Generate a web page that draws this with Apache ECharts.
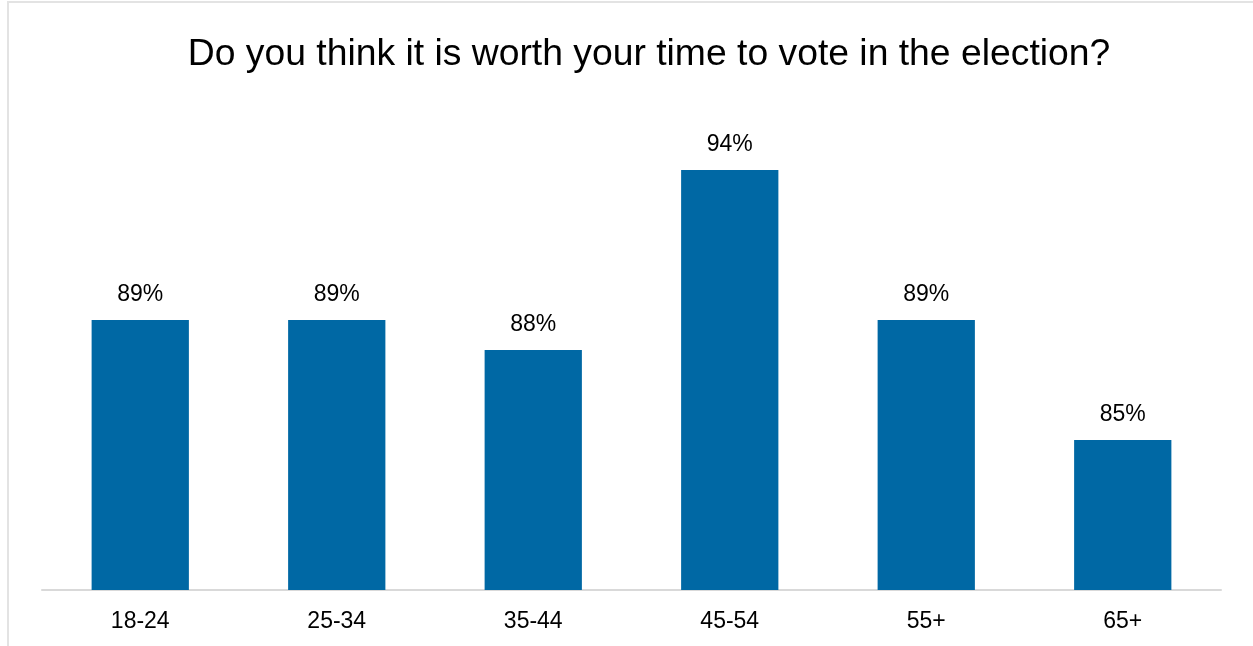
<!DOCTYPE html>
<html>
<head>
<meta charset="utf-8">
<script src="https://cdn.jsdelivr.net/npm/echarts@6/dist/echarts.min.js"></script>
<style>
html,body{margin:0;padding:0;background:#fff;}
#frame{position:absolute;left:7px;top:1px;right:-5px;bottom:-5px;border-left:2px solid #e3e3e3;border-top:2px solid #e3e3e3;}
#chart{position:absolute;left:0;top:0;width:1253px;height:646px;}
</style>
</head>
<body>
<div id="frame"></div>
<div id="chart"></div>
<script>
const categories = ['18-24', '25-34', '35-44', '45-54', '55+', '65+'];
const values = [89, 89, 88, 94, 89, 85];
const titleText = 'Do you think it is worth your time to vote in the election?';

const chart = echarts.init(document.getElementById('chart'), null, {renderer: 'canvas'});
chart.setOption({
  backgroundColor: 'transparent',
  animation: false,
  title: {
    text: titleText,
    left: 644,
    top: 31,
    textAlign: 'center',
    textStyle: {fontFamily: 'Liberation Sans, Arial, sans-serif', fontSize: 37.3, fontWeight: 'normal', color: '#000'}
  },
  grid: {left: 42, right: 32, top: 140, bottom: 56, containLabel: false},
  xAxis: {
    type: 'category',
    data: categories,
    axisLine: {lineStyle: {color: '#d9d9d9', width: 2}},
    axisTick: {show: false},
    axisLabel: {fontFamily: 'Liberation Sans, Arial, sans-serif', fontSize: 23, color: '#000', margin: 20}
  },
  yAxis: {
    type: 'value',
    min: 80,
    max: 95,
    show: false,
    splitLine: {show: false}
  },
  series: [{
    type: 'bar',
    data: values,
    barWidth: '49.5%',
    itemStyle: {color: '#0068a4'},
    label: {
      show: true,
      position: 'top',
      distance: 14,
      formatter: '{c}%',
      fontFamily: 'Liberation Sans, Arial, sans-serif',
      fontSize: 23,
      color: '#000'
    }
  }]
});
</script>
</body>
</html>
